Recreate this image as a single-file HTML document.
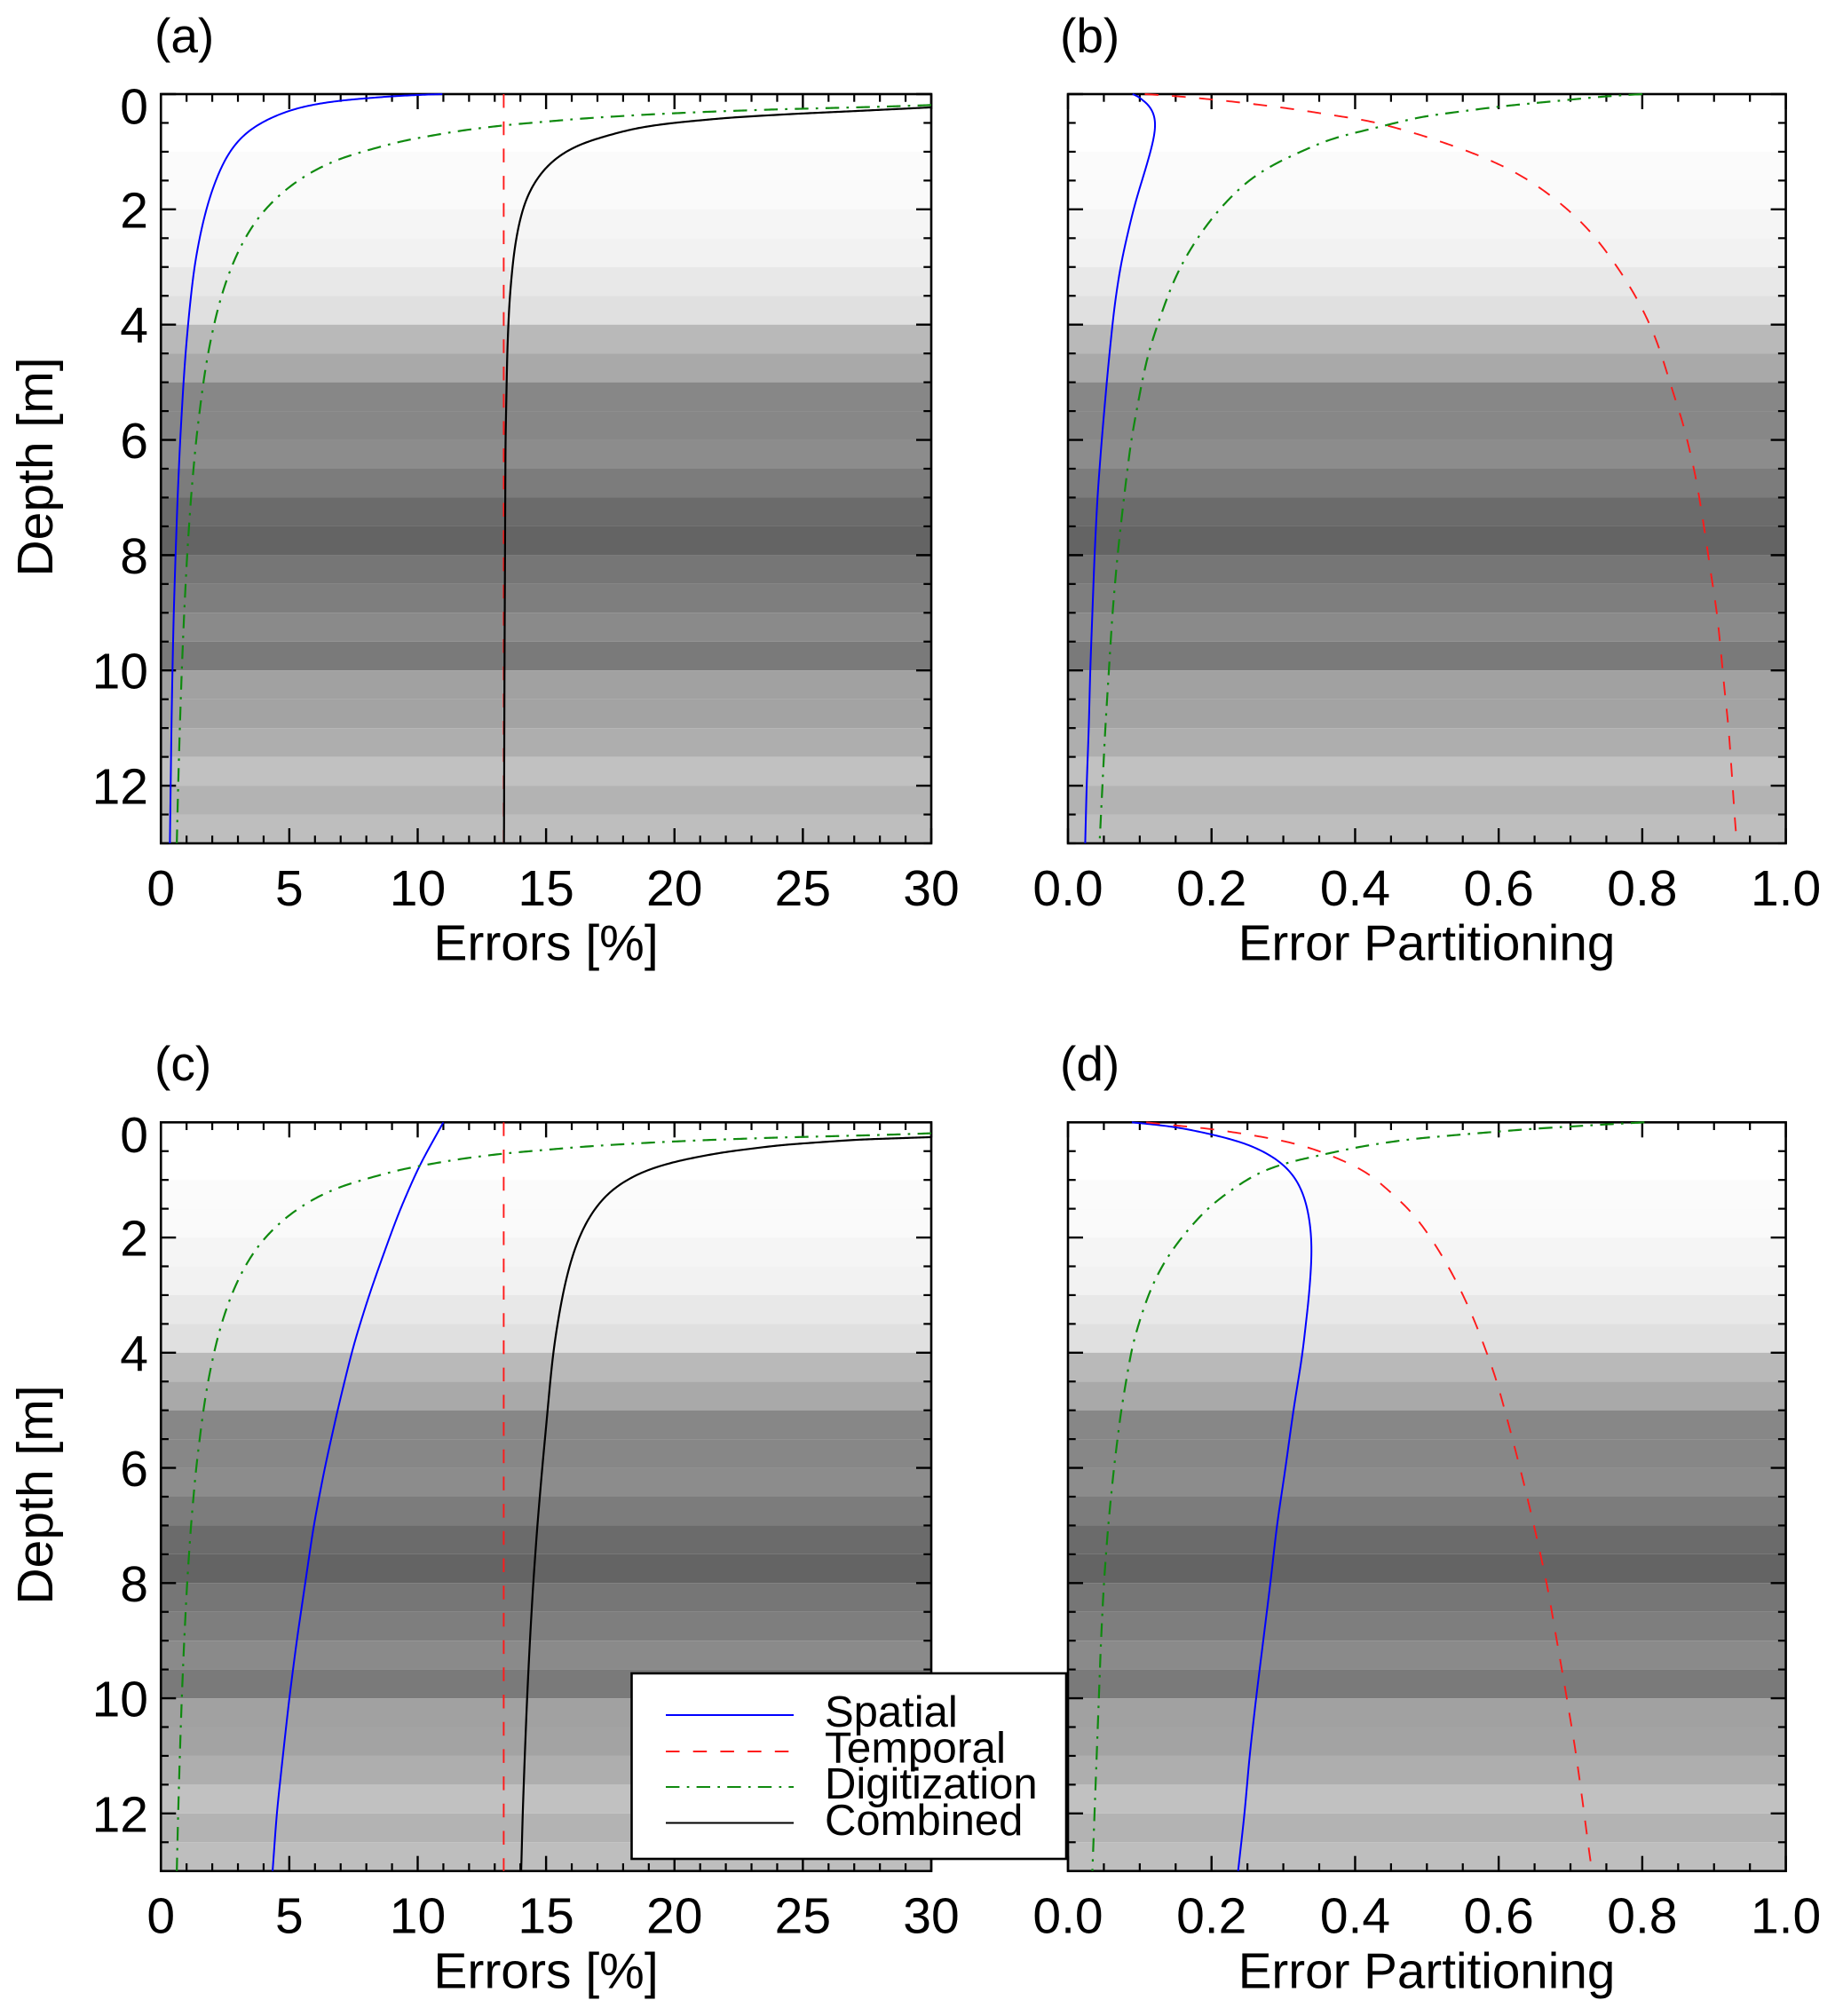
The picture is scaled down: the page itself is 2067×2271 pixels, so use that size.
<!DOCTYPE html>
<html lang="en">
<head>
<meta charset="utf-8">
<title>Depth profiles of errors and error partitioning</title>
<style>
html,body{margin:0;padding:0;background:#fff;}
svg{display:block;}
text{font-family:"Liberation Sans",sans-serif;fill:#000;}
</style>
</head>
<body>
<svg id="figure" xmlns="http://www.w3.org/2000/svg" width="2067" height="2271" viewBox="0 0 2067 2271">
  <rect x="0" y="0" width="2067" height="2271" fill="#fff"/>
  <g id="panel-a"></g>
  <g id="panel-b"></g>
  <g id="panel-c"></g>

  <g>
    <rect x="711.5" y="1885" width="489.5" height="209" fill="#fff" stroke="#000" stroke-width="2.6"/>
    <line x1="750" y1="1932" x2="894" y2="1932" stroke="#0000ff" stroke-width="2"/>
    <line x1="750" y1="1973" x2="894" y2="1973" stroke="#ff1a1a" stroke-width="2" stroke-dasharray="15.5 15.2"/>
    <line x1="750" y1="2013" x2="894" y2="2013" stroke="#0f8a0f" stroke-width="2" stroke-dasharray="15.4 8.3 2.7 8.2"/>
    <line x1="750" y1="2053.5" x2="894" y2="2053.5" stroke="#000" stroke-width="2"/>
    <text x="929" y="1945" font-size="49">Spatial</text>
    <text x="929" y="1985.5" font-size="49" textLength="204" lengthAdjust="spacingAndGlyphs">Temporal</text>
    <text x="929" y="2026" font-size="49">Digitization</text>
    <text x="929" y="2067" font-size="49">Combined</text>
  </g>

  <g id="panel-d"></g>

  <text x="174" y="59" font-size="55">(a)</text>
  <text x="1194" y="59" font-size="55">(b)</text>
  <text x="174" y="1217" font-size="55">(c)</text>
  <text x="1194" y="1217" font-size="55">(d)</text>

  <text x="615" y="1081.5" font-size="57" text-anchor="middle">Errors [%]</text>
  <text x="1607" y="1081.5" font-size="56.6" text-anchor="middle">Error Partitioning</text>
  <text x="615" y="2239.5" font-size="57" text-anchor="middle">Errors [%]</text>
  <text x="1607" y="2239.5" font-size="56.6" text-anchor="middle">Error Partitioning</text>

  <text transform="translate(59 526) rotate(-90)" font-size="57" text-anchor="middle">Depth [m]</text>
  <text transform="translate(59 1684) rotate(-90)" font-size="57" text-anchor="middle">Depth [m]</text>
</svg>

<script>
// Background shading: grey level of each 0.5 m layer, top to bottom
const layerThickness = 0.5;
const layerGrays = [255,255,251,250,245,242,232,224,185,169,135,135,140,124,107,100,118,126,138,122,161,163,174,193,179,190];

// Tick labels
const errorTickLabels = ['0','5','10','15','20','25','30'];
const partitionTickLabels = ['0.0','0.2','0.4','0.6','0.8','1.0'];
const depthTickLabels = ['0','2','4','6','8','10','12'];

// Shared series (panels a and c)
const temporalErrorDepth = [0,13];
const temporalError = [13.35,13.35];
const digitizationErrorDepth = [0.19,0.216,0.24,0.267,0.308,0.354,0.42,0.54,0.637,0.82,1.11,1.335,1.63,1.99,2.27,2.65,3.04,3.4,3.81,4.45,5,6,7,8,9,10,11,12,13];
const digitizationError = [30,28.3,26.2,23.8,21.2,18.95,16.5,13.35,11.6,9.29,6.98,5.89,4.9,4.05,3.57,3.08,2.7,2.42,2.16,1.85,1.65,1.37,1.17,1.02,0.906,0.812,0.736,0.672,0.619];

// Panel a
const aSpatialDepth = [0,0.014,0.036,0.11,0.18,0.277,0.395,0.5,0.6,0.7,0.83,1,1.27,1.76,2.32,2.99,3.7,4.43,5,6,7,8,9,10,11,12,13];
const aSpatial = [10.96,10,9,6.98,5.9,4.99,4.35,3.85,3.5,3.2,2.93,2.65,2.33,1.91,1.58,1.3,1.12,0.97,0.88,0.75,0.65,0.57,0.5,0.45,0.41,0.38,0.35];
const aCombinedDepth = [0.23,0.293,0.344,0.406,0.5,0.59,0.755,0.883,1.06,1.29,1.7,2.12,2.58,2.94,3.6,4.43,6,8,10,13];
const aCombined = [30,27.1,24.6,22.2,19.9,18.46,17.1,16.2,15.5,14.9,14.3,14,13.8,13.7,13.57,13.49,13.42,13.4,13.38,13.36];

// Panel b
const bSpatialDepth = [0,0.087,0.216,0.395,0.78,1.35,1.86,2.48,2.99,3.7,4.48,5,6,7,8,9,10,11,12,13];
const bSpatial = [0.09,0.107,0.12,0.125,0.12,0.107,0.094,0.082,0.073,0.0645,0.058,0.054,0.047,0.041,0.037,0.034,0.031,0.029,0.026,0.024];
const bTemporalDepth = [0,0.036,0.128,0.257,0.47,0.7,0.986,1.21,1.42,1.73,2.04,2.35,2.73,3.12,3.55,3.97,4.37,5.26,5.75,6.66,7.58,8.43,8.98,9.72,10.4,10.94,11.83,12.77,13];
const bTemporal = [0.107,0.153,0.229,0.313,0.423,0.49,0.557,0.6,0.633,0.67,0.7,0.726,0.75,0.772,0.793,0.81,0.823,0.845,0.858,0.875,0.887,0.897,0.904,0.91,0.915,0.92,0.925,0.93,0.932];
const bDigitizationDepth = [0,0.036,0.216,0.395,0.55,0.78,1.19,1.5,1.96,2.37,2.86,3.3,3.81,4.48,5,6,7,8,9,10,11,12,13];
const bDigitization = [0.8,0.75,0.6,0.49,0.44,0.364,0.29,0.25,0.213,0.187,0.162,0.145,0.13,0.112,0.103,0.088,0.078,0.069,0.062,0.057,0.052,0.048,0.044];

// Panel c
const cSpatialDepth = [0,0.76,1.58,2.4,3.01,3.84,4.5,5,6,7,8,9,10,11,12,13];
const cSpatial = [11,10.05,9.25,8.58,8.1,7.52,7.15,6.88,6.38,5.95,5.62,5.29,5,4.75,4.51,4.35];
const cCombinedDepth = [0.257,0.3,0.395,0.524,0.68,0.858,1.14,1.37,1.65,1.99,2.4,2.91,3.53,3.99,4.5,5,6,7,8,9,10,11,12,13];
const cCombined = [29.97,27.1,24.1,21.8,20,18.7,17.6,17.1,16.65,16.28,15.96,15.68,15.43,15.28,15.16,15.06,14.85,14.66,14.5,14.37,14.26,14.17,14.09,14.03];

// Panel d
const dSpatialDepth = [0,0.072,0.205,0.37,0.575,0.755,1.01,1.37,1.78,2.19,2.66,3.12,3.53,4,5,6,7,8,9,10,11,12,13];
const dSpatial = [0.089,0.147,0.2,0.25,0.284,0.304,0.321,0.332,0.338,0.34,0.338,0.335,0.331,0.327,0.314,0.303,0.291,0.282,0.272,0.262,0.253,0.246,0.237];
const dTemporalDepth = [0,0.06,0.113,0.25,0.344,0.5,0.68,0.88,1.17,1.47,1.86,2.27,2.66,3.09,3.55,4.43,5.34,6.26,7.15,8.06,9,9.93,10.9,11.8,12.76,13];
const dTemporal = [0.109,0.154,0.2,0.27,0.31,0.352,0.386,0.42,0.445,0.473,0.498,0.519,0.537,0.554,0.57,0.596,0.616,0.635,0.652,0.668,0.681,0.694,0.707,0.717,0.727,0.73];
const dDigitizationDepth = [0,0.036,0.113,0.216,0.293,0.42,0.55,0.7,0.88,1.22,1.5,2.04,2.5,3.01,3.84,5,6,7,8,9,10,11,12,13];
const dDigitization = [0.803,0.749,0.646,0.544,0.475,0.407,0.359,0.304,0.263,0.222,0.193,0.155,0.13,0.111,0.09,0.074,0.064,0.056,0.05,0.046,0.043,0.04,0.037,0.034];

const SVGNS = 'http://www.w3.org/2000/svg';
const DEPTH_MAX = 13;
const lineStyles = {
  spatial: {stroke:'#0000ff', width:2, dash:''},
  temporal: {stroke:'#ff1a1a', width:1.9, dash:'15.5 15.2'},
  digitization: {stroke:'#0f8a0f', width:2.2, dash:'15.4 8.3 2.7 8.2'},
  combined: {stroke:'#000000', width:2.2, dash:''}
};

const panelConfigs = [
  {id:'panel-a', left:181.25, right:1049, top:106, bottom:950, xMax:30, xLabels:errorTickLabels, minorStep:1, majorEvery:5, showDepth:true,
   series:[['spatial',aSpatialDepth,aSpatial],['temporal',temporalErrorDepth,temporalError],['digitization',digitizationErrorDepth,digitizationError],['combined',aCombinedDepth,aCombined]]},
  {id:'panel-b', left:1203, right:2011.6, top:106, bottom:950, xMax:1, xLabels:partitionTickLabels, minorStep:0.05, majorEvery:4, showDepth:false,
   series:[['spatial',bSpatialDepth,bSpatial],['temporal',bTemporalDepth,bTemporal],['digitization',bDigitizationDepth,bDigitization]]},
  {id:'panel-c', left:181.25, right:1049, top:1264.3, bottom:2107.7, xMax:30, xLabels:errorTickLabels, minorStep:1, majorEvery:5, showDepth:true,
   series:[['spatial',cSpatialDepth,cSpatial],['temporal',temporalErrorDepth,temporalError],['digitization',digitizationErrorDepth,digitizationError],['combined',cCombinedDepth,cCombined]]},
  {id:'panel-d', left:1203, right:2011.6, top:1264.3, bottom:2107.7, xMax:1, xLabels:partitionTickLabels, minorStep:0.05, majorEvery:4, showDepth:false,
   series:[['spatial',dSpatialDepth,dSpatial],['temporal',dTemporalDepth,dTemporal],['digitization',dDigitizationDepth,dDigitization]]}
];

// Smooth curve through plotted points: resample along arc length, then low-pass filter
function smoothPoints(pts){
  if (pts.length < 3) return pts;
  const step = 2;
  const res = [pts[0]];
  let carry = 0;
  for (let i = 0; i < pts.length - 1; i++){
    const a = pts[i], b = pts[i + 1];
    const len = Math.hypot(b[0] - a[0], b[1] - a[1]);
    let s = step - carry;
    while (s < len){
      res.push([a[0] + (b[0] - a[0]) * s / len, a[1] + (b[1] - a[1]) * s / len]);
      s += step;
    }
    carry = len - (s - step);
  }
  res.push(pts[pts.length - 1]);
  let cur = res;
  for (let pass = 0; pass < 3; pass++){
    const next = [];
    for (let i = 0; i < cur.length; i++){
      const w = Math.min(7, i, cur.length - 1 - i);
      let sx = 0, sy = 0;
      for (let k = i - w; k <= i + w; k++){
        sx += cur[k][0];
        sy += cur[k][1];
      }
      next.push([sx / (2 * w + 1), sy / (2 * w + 1)]);
    }
    cur = next;
  }
  return cur;
}

function drawPanel(cfg){
  const root = document.getElementById(cfg.id);
  const xScale = v => cfg.left + (v / cfg.xMax) * (cfg.right - cfg.left);
  const yScale = d => cfg.top + (d / DEPTH_MAX) * (cfg.bottom - cfg.top);

  // Shaded layers
  layerGrays.forEach((g, i) => {
    const y1 = yScale(i * layerThickness);
    const y2 = yScale((i + 1) * layerThickness);
    const r = document.createElementNS(SVGNS, 'rect');
    
    
    r.setAttribute('x', cfg.left);
    r.setAttribute('y', y1);
    r.setAttribute('width', cfg.right - cfg.left);
    r.setAttribute('height', y2 - y1);
    r.setAttribute('fill', 'rgb(' + g + ',' + g + ',' + g + ')');
    root.appendChild(r);
  });

  const addTick = (x1, y1, x2, y2, major) => {
    const t = document.createElementNS(SVGNS, 'line');
    
    
    t.setAttribute('x1', x1);
    t.setAttribute('y1', y1);
    t.setAttribute('x2', x2);
    t.setAttribute('y2', y2);
    t.setAttribute('stroke', '#000');
    t.setAttribute('stroke-width', major ? 2.4 : 2.2);
    root.appendChild(t);
  };

  // X ticks, top and bottom
  const nX = Math.round(cfg.xMax / cfg.minorStep);
  for (let i = 0; i <= nX; i++){
    const major = i % cfg.majorEvery === 0;
    const len = major ? 17 : 8.7;
    const x = xScale(i * cfg.minorStep);
    addTick(x, cfg.top, x, cfg.top + len, major);
    addTick(x, cfg.bottom, x, cfg.bottom - len, major);
  }
  // Y ticks, left and right
  for (let i = 0; i <= DEPTH_MAX * 2; i++){
    const major = i % 4 === 0;
    const len = major ? 17 : 8.7;
    const y = yScale(i * 0.5);
    addTick(cfg.left, y, cfg.left + len, y, major);
    addTick(cfg.right, y, cfg.right - len, y, major);
  }

  // Frame
  const frame = document.createElementNS(SVGNS, 'rect');
  
  
  frame.setAttribute('x', cfg.left);
  frame.setAttribute('y', cfg.top);
  frame.setAttribute('width', cfg.right - cfg.left);
  frame.setAttribute('height', cfg.bottom - cfg.top);
  frame.setAttribute('fill', 'none');
  frame.setAttribute('stroke', '#000');
  frame.setAttribute('stroke-width', 2.6);
  root.appendChild(frame);

  // Clip for data lines (slightly loose so lines can sit on the top frame)
  const clip = document.createElementNS(SVGNS, 'clipPath');
  clip.setAttribute('id', cfg.id + '-clip');
  const clipRect = document.createElementNS(SVGNS, 'rect');
  clipRect.setAttribute('x', cfg.left);
  clipRect.setAttribute('y', cfg.top - 2);
  clipRect.setAttribute('width', cfg.right - cfg.left);
  clipRect.setAttribute('height', cfg.bottom - cfg.top + 4);
  clip.appendChild(clipRect);
  root.appendChild(clip);

  // Series
  cfg.series.forEach(s => {
    const style = lineStyles[s[0]];
    const pts = s[1].map((d, i) => [xScale(s[2][i]), yScale(d)]);
    const smooth = smoothPoints(pts);
    const p = document.createElementNS(SVGNS, 'path');
    
    
    p.setAttribute('d', 'M' + smooth.map(q => q[0].toFixed(2) + ' ' + q[1].toFixed(2)).join('L'));
    p.setAttribute('fill', 'none');
    p.setAttribute('stroke', style.stroke);
    p.setAttribute('stroke-width', style.width);
    if (style.dash) p.setAttribute('stroke-dasharray', style.dash);
    p.setAttribute('clip-path', 'url(#' + cfg.id + '-clip)');
    root.appendChild(p);
  });

  // X tick labels
  cfg.xLabels.forEach(label => {
    const t = document.createElementNS(SVGNS, 'text');
    
    
    t.setAttribute('x', xScale(parseFloat(label)));
    t.setAttribute('y', cfg.bottom + 69.8);
    t.setAttribute('font-size', 57);
    t.setAttribute('text-anchor', 'middle');
    t.textContent = label;
    root.appendChild(t);
  });

  // Depth tick labels
  if (cfg.showDepth){
    depthTickLabels.forEach(label => {
      const d = parseFloat(label);
      const t = document.createElementNS(SVGNS, 'text');
      
      
      t.setAttribute('x', 167);
      t.setAttribute('y', yScale(d) + (d === 0 ? 33.5 : 20.5));
      t.setAttribute('font-size', 57);
      t.setAttribute('text-anchor', 'end');
      t.textContent = label;
      root.appendChild(t);
    });
  }
}

panelConfigs.forEach(drawPanel);
</script>
</body>
</html>
